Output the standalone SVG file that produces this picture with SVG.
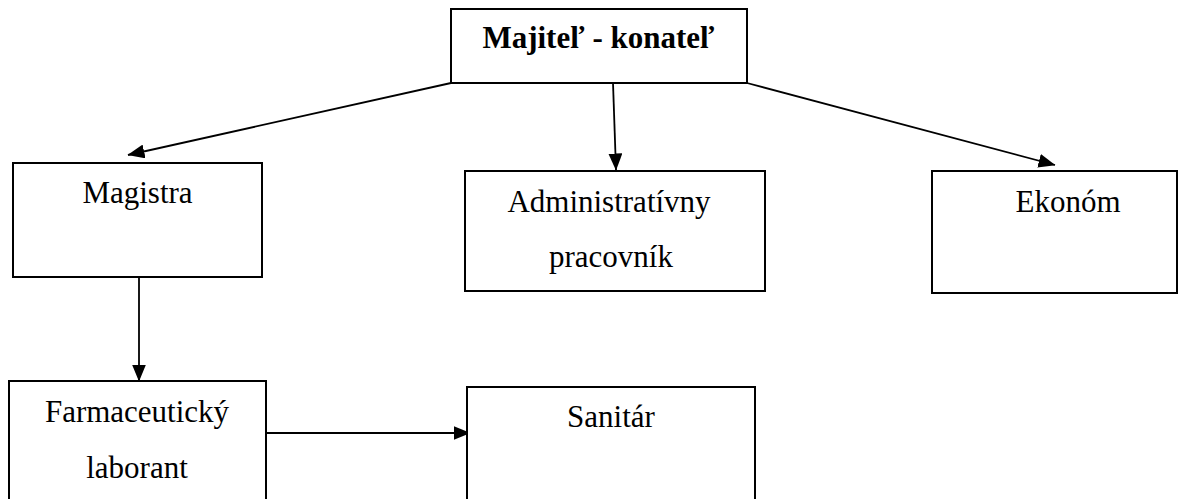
<svg xmlns="http://www.w3.org/2000/svg" width="1178" height="499" viewBox="0 0 1178 499">
<style>
.box{fill:#fff;stroke:#000;stroke-width:2}
.t{font-family:"Liberation Serif","Times New Roman",serif;font-size:31px;fill:#000;text-anchor:middle}
.b{font-weight:bold;font-size:31px}
.c{fill:none;stroke:#000;stroke-width:1.8}
</style>
<defs>
<marker id="ah" markerUnits="userSpaceOnUse" markerWidth="17" markerHeight="14" refX="16.5" refY="7" orient="auto" viewBox="0 0 17 14">
<path d="M0,0 L17,7 L0,14 Z" fill="#000"/>
</marker>
</defs>
<rect width="1178" height="499" fill="#fff"/>
<g id="connectors">
<line class="c" x1="451" y1="83" x2="128" y2="155" marker-end="url(#ah)"/>
<line class="c" x1="613" y1="83" x2="616" y2="170" marker-end="url(#ah)"/>
<line class="c" x1="747" y1="83" x2="1055" y2="165" marker-end="url(#ah)"/>
<line class="c" x1="139" y1="277" x2="139" y2="381" marker-end="url(#ah)"/>
<line class="c" x1="266" y1="433" x2="470" y2="433" marker-end="url(#ah)"/>
</g>
<g id="majitel">
<rect class="box" x="451" y="9" width="296" height="74"/>
<text class="t b" x="598.5" y="48">Majiteľ - konateľ</text>
</g>
<g id="magistra">
<rect class="box" x="13" y="163" width="249" height="114"/>
<text class="t" x="137.5" y="203">Magistra</text>
</g>
<g id="administrativny">
<rect class="box" x="465" y="171" width="300" height="120"/>
<text class="t" x="609" y="212">Administratívny</text>
<text class="t" x="611" y="267">pracovník</text>
</g>
<g id="ekonom">
<rect class="box" x="932" y="171" width="245" height="122"/>
<text class="t" x="1068" y="212">Ekonóm</text>
</g>
<g id="farmaceuticky">
<rect class="box" x="9" y="381" width="257" height="130"/>
<text class="t" x="137" y="422">Farmaceutický</text>
<text class="t" x="137" y="478">laborant</text>
</g>
<g id="sanitar">
<rect class="box" x="467" y="387" width="288" height="124"/>
<text class="t" x="611" y="427">Sanitár</text>
</g>
</svg>
